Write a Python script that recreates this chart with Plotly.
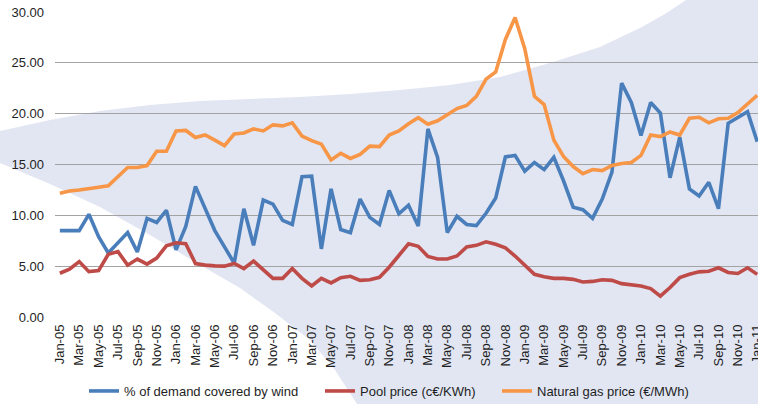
import plotly.graph_objects as go

# Monthly axis: Jan-05 .. Jan-11
month_names = ["Jan", "Feb", "Mar", "Apr", "May", "Jun",
               "Jul", "Aug", "Sep", "Oct", "Nov", "Dec"]
months = [f"{month_names[m]}-{y:02d}" for y in range(5, 11) for m in range(12)] + ["Jan-11"]

wind_share = [
    8.5, 8.5, 8.5, 10.1, 7.9, 6.3, 7.25, 8.3, 6.4, 9.7, 9.3, 10.5,
    6.6, 8.9, 12.85, 10.75, 8.5, 6.9, 5.3, 10.65, 7.05, 11.5, 11.1, 9.5,
    9.1, 13.8, 13.85, 6.7, 12.6, 8.6, 8.3, 11.6, 9.8, 9.1, 12.45, 10.15,
    11.0, 8.95, 18.5, 15.7, 8.3, 9.9, 9.1, 9.0, 10.2, 11.7, 15.75, 15.9,
    14.35, 15.2, 14.5, 15.7, 13.4, 10.8, 10.55, 9.7, 11.6, 14.25, 23.0, 21.1,
    17.85, 21.1, 20.05, 13.7, 17.7, 12.6, 11.9, 13.25, 10.65, 19.05, 19.65, 20.2,
    17.25,
]

pool_price = [
    4.3, 4.7, 5.45, 4.46, 4.56, 6.17, 6.43, 5.1, 5.7, 5.2, 5.8, 7.0,
    7.3, 7.2, 5.26, 5.1, 5.03, 5.0, 5.26, 4.77, 5.5, 4.6, 3.8, 3.8,
    4.77, 3.8, 3.05, 3.8, 3.35, 3.87, 4.0, 3.6, 3.67, 3.9, 4.9, 6.05,
    7.2, 6.95, 5.95, 5.7, 5.7, 6.0, 6.9, 7.05, 7.4, 7.15, 6.8, 6.0,
    5.1, 4.2, 3.95, 3.8, 3.8, 3.7, 3.45, 3.5, 3.67, 3.6, 3.28, 3.2,
    3.05, 2.8, 2.05, 2.9, 3.87, 4.2, 4.44, 4.5, 4.84, 4.38, 4.28, 4.84,
    4.2,
]

gas_price = [
    12.17, 12.4, 12.5, 12.67, 12.76, 12.9, 13.8, 14.7, 14.7, 14.9, 16.3, 16.3,
    18.3, 18.35, 17.65, 17.9, 17.4, 16.86, 18.0, 18.1, 18.5, 18.3, 18.9, 18.8,
    19.1, 17.8, 17.35, 17.0, 15.45, 16.1, 15.6, 16.0, 16.8, 16.76, 17.9, 18.3,
    19.0, 19.6, 18.97, 19.3, 19.9, 20.5, 20.8, 21.7, 23.4, 24.1, 27.3, 29.46,
    26.4, 21.7, 20.9, 17.4, 15.8, 14.8, 14.1, 14.5, 14.4, 14.9, 15.1, 15.2,
    15.9, 17.9, 17.75, 18.2, 17.9, 19.55, 19.65, 19.1, 19.5, 19.55, 20.1, 20.9,
    21.8,
]

series_names = ["% of demand covered by wind", "Pool price (c€/KWh)", "Natural gas price (€/MWh)"]
series_colors = ["#4A7EBB", "#BE4B48", "#F79646"]
y_ticks = [0, 5, 10, 15, 20, 25, 30]

W, H = 758, 404
ML, MR, MT, MB = 55, 0, 12, 87
X_RANGE = [-0.5, 72.08]
Y_RANGE = [0, 30]

plot_w = W - ML - MR
plot_h = H - MT - MB


def to_paper(px, py):
    return (px - ML) / plot_w, (H - MB - py) / plot_h


# one legend box per series so each key sits at its own spot under the axis
legend_ids = ["legend", "legend2", "legend3"]
legend_left_px = [84, 320, 497]
legend_mid_py = 391

fig = go.Figure()
for name, vals, col, lg in zip(series_names, [wind_share, pool_price, gas_price],
                               series_colors, legend_ids):
    fig.add_trace(go.Scatter(
        x=months, y=vals, name=name, mode="lines", legend=lg,
        line=dict(color=col, width=3.6, shape="linear"),
    ))

# Decorative swoosh behind the plot, outlined in page pixels
top_edge = [(0, 131), (50, 120), (100, 111), (150, 105), (200, 101), (250, 99),
            (300, 97), (350, 94), (400, 90), (450, 85), (500, 77), (550, 63),
            (600, 47), (640, 28), (665, 14), (686, 0)]
bottom_edge = [(357, 404), (335, 370), (310, 340), (275, 313), (240, 288),
               (200, 265), (150, 235), (100, 207), (50, 184), (0, 163)]
outline = top_edge + [(W + 5, 0), (W + 5, H)] + bottom_edge
pts = [to_paper(px, py) for px, py in outline]
path = "M " + " L ".join(f"{x:.4f},{y:.4f}" for x, y in pts) + " Z"
fig.add_shape(type="path", path=path, xref="paper", yref="paper",
              fillcolor="#E2E6F3", line=dict(width=0), layer="below")

font = dict(family="Arial, Liberation Sans, sans-serif", size=13, color="#1E1E1E")

legend_layout = {}
for lg, lx in zip(legend_ids, legend_left_px):
    px, py = to_paper(lx, legend_mid_py)
    legend_layout[lg] = dict(
        orientation="h", x=px, xanchor="left", y=py, yanchor="middle",
        font=font, bgcolor="rgba(0,0,0,0)", itemwidth=30, borderwidth=0,
    )

fig.update_layout(
    width=W, height=H,
    margin=dict(l=ML, r=MR, t=MT, b=MB, pad=0, autoexpand=False),
    paper_bgcolor="white",
    plot_bgcolor="rgba(0,0,0,0)",
    font=font,
    showlegend=True,
    xaxis=dict(
        type="category", categoryorder="array", categoryarray=months,
        range=X_RANGE, tickmode="array", tickvals=months[::2], ticktext=months[::2],
        tickangle=-90, showgrid=False, zeroline=False, showline=False,
        ticks="", ticklabelstandoff=4, tickfont=font, fixedrange=True,
        automargin=False,
    ),
    yaxis=dict(
        range=Y_RANGE, tickmode="array", tickvals=y_ticks,
        ticktext=[f"{v:.2f}" for v in y_ticks],
        showgrid=True, gridcolor="#A3A3A3", gridwidth=1,
        zeroline=False, showline=False, ticks="", ticklabelstandoff=10,
        tickfont=font, fixedrange=True, automargin=False,
    ),
    **legend_layout,
)

fig.write_html("out.html")
